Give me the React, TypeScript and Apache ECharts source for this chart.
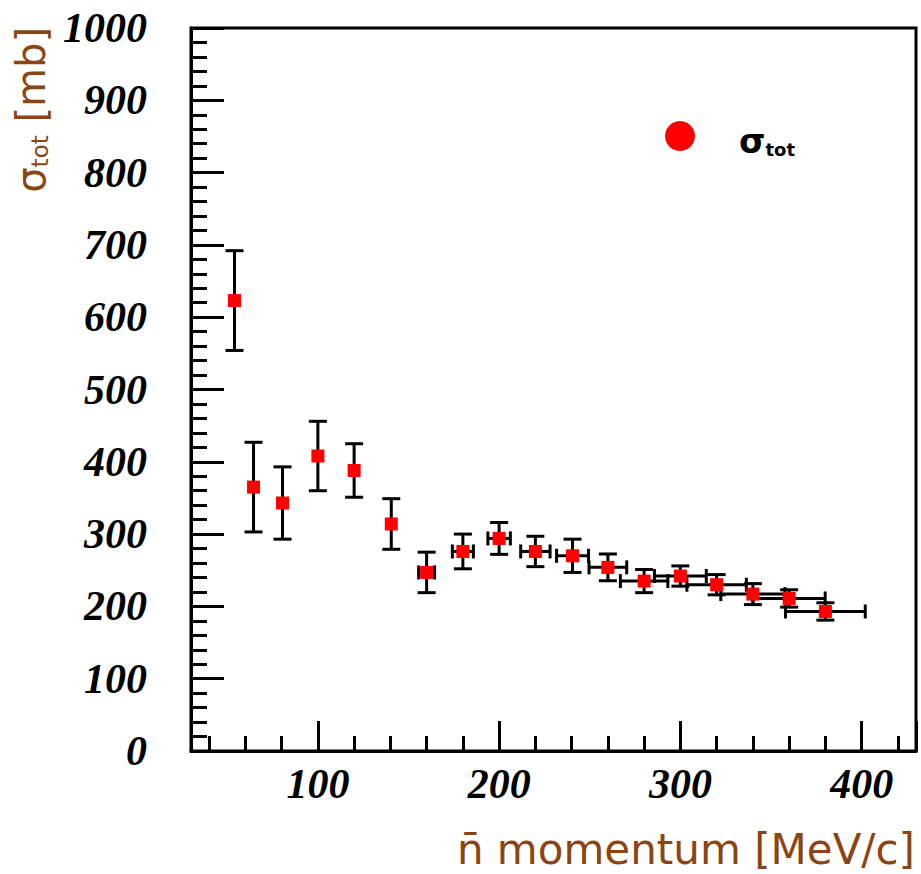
import React, { useEffect, useRef } from 'react';
import * as echarts from 'echarts';

// antineutron momentum [MeV/c]
const momentum = [54, 64.5, 80.5, 100, 120, 140.5, 160, 180, 200, 220, 240.5, 260, 280, 300, 320, 340, 360, 380];
// total cross section [mb]
const sigmaTot = [623, 365, 343, 408, 388, 314, 247, 276, 294, 276, 270, 254, 235, 242, 230, 217, 211, 193];
// vertical errors [mb]
const sigmaErr = [69, 62, 50, 48, 37, 35, 28, 24, 22, 21, 23, 18.5, 16, 14, 14, 14.5, 12, 12];
// horizontal errors [MeV/c]
const momentumErr = [0, 0, 0, 0, 0, 0, 4.4, 5.8, 6.2, 8.1, 8.8, 10.4, 13.1, 14.3, 16.4, 17.7, 19.9, 22];

const xRange = [30, 430];
const yRange = [0, 1000];

const BROWN = '#8B4513';
const tickFont = {
  fontFamily: 'Liberation Serif',
  fontStyle: 'italic' as const,
  fontWeight: 'bold' as const,
  fontSize: 42,
  color: '#000',
};

export default function App() {
  const ref = useRef<HTMLDivElement>(null);
  useEffect(() => {
    if (!ref.current) return;
    const chart = echarts.init(ref.current, undefined, { renderer: 'svg' });
    const points = momentum.map((x, i) => [x, sigmaTot[i]]);
    const errs = momentum.map((x, i) => [x, sigmaTot[i], sigmaErr[i], momentumErr[i]]);
    const line = { stroke: '#000', lineWidth: 3 };
    chart.setOption({
      animation: false,
      grid: {
        left: 191,
        right: 5,
        top: 28,
        bottom: 123,
        show: true,
        borderColor: '#000',
        borderWidth: 3,
        backgroundColor: 'transparent',
      },
      xAxis: {
        type: 'value',
        min: xRange[0],
        max: xRange[1],
        splitNumber: 4,
        splitLine: { show: false },
        axisLine: { show: true, lineStyle: { color: '#000', width: 3 } },
        axisTick: { show: true, inside: true, length: 30, lineStyle: { color: '#000', width: 3 } },
        minorTick: { show: true, splitNumber: 5, length: 15, lineStyle: { color: '#000', width: 3 } },
        axisLabel: {
          ...tickFont,
          margin: 12,
          showMinLabel: false,
          showMaxLabel: false,
          formatter: (v: number) => (v % 100 === 0 ? String(v) : ''),
        },
      },
      yAxis: {
        type: 'value',
        min: yRange[0],
        max: yRange[1],
        interval: 100,
        splitLine: { show: false },
        axisLine: { show: true, lineStyle: { color: '#000', width: 3 } },
        axisTick: { show: true, inside: true, length: 33, lineStyle: { color: '#000', width: 3 } },
        minorTick: { show: true, splitNumber: 5, length: 16, lineStyle: { color: '#000', width: 3 } },
        axisLabel: { ...tickFont, margin: 44, formatter: (v: number) => String(v) },
      },
      graphic: [
        { type: 'circle', shape: { cx: 680, cy: 136, r: 15 }, style: { fill: '#ff0000' } },
        {
          type: 'text',
          x: 739,
          y: 141,
          style: {
            text: '{s|σ}{t|tot}',
            align: 'left',
            verticalAlign: 'middle',
            rich: {
              s: { fontFamily: 'DejaVu Sans', fontWeight: 'bold', fontSize: 34, fill: '#000' },
              t: { fontFamily: 'DejaVu Sans', fontWeight: 'bold', fontSize: 18, fill: '#000', verticalAlign: 'bottom' },
            },
          },
        },
        {
          type: 'text',
          x: 31,
          y: 27,
          rotation: Math.PI / 2,
          style: {
            text: '{s|σ}{t|tot}{m| [mb]}',
            align: 'right',
            verticalAlign: 'middle',
            rich: {
              s: { fontFamily: 'DejaVu Sans', fontSize: 40, fill: BROWN },
              t: { fontFamily: 'DejaVu Sans', fontSize: 23, fill: BROWN, verticalAlign: 'bottom' },
              m: { fontFamily: 'DejaVu Sans', fontSize: 40, fill: BROWN },
            },
          },
        },
        {
          type: 'text',
          x: 915,
          y: 849,
          style: {
            text: 'n\u0304 momentum [MeV/c]',
            align: 'right',
            verticalAlign: 'middle',
            fontFamily: 'DejaVu Sans',
            fontSize: 42,
            fill: BROWN,
          },
        },
      ],
      series: [
        {
          type: 'custom',
          name: 'errors',
          data: errs,
          encode: { x: 0, y: 1 },
          z: 2,
          renderItem: (params: any, api: any) => {
            const x = api.value(0);
            const y = api.value(1);
            const ey = api.value(2);
            const ex = api.value(3);
            const c = api.coord([x, y]);
            const top = api.coord([x, y + ey]);
            const bot = api.coord([x, y - ey]);
            const cap = 9;
            const children: any[] = [
              { type: 'line', shape: { x1: c[0], y1: top[1], x2: c[0], y2: bot[1] }, style: line },
              { type: 'line', shape: { x1: c[0] - cap, y1: top[1], x2: c[0] + cap, y2: top[1] }, style: line },
              { type: 'line', shape: { x1: c[0] - cap, y1: bot[1], x2: c[0] + cap, y2: bot[1] }, style: line },
            ];
            if (ex > 0) {
              const l = api.coord([x - ex, y]);
              const r = api.coord([x + ex, y]);
              const hc = 7;
              children.push(
                { type: 'line', shape: { x1: l[0], y1: c[1], x2: r[0], y2: c[1] }, style: line },
                { type: 'line', shape: { x1: l[0], y1: c[1] - hc, x2: l[0], y2: c[1] + hc }, style: line },
                { type: 'line', shape: { x1: r[0], y1: c[1] - hc, x2: r[0], y2: c[1] + hc }, style: line },
              );
            }
            return { type: 'group', children };
          },
        },
        {
          type: 'scatter',
          name: 'σtot',
          data: points,
          symbol: 'rect',
          symbolSize: 13,
          itemStyle: { color: '#ff0000', opacity: 1 },
          z: 3,
        },
      ],
    });
    return () => chart.dispose();
  }, []);
  return (
    <div
      ref={ref}
      style={{ position: 'absolute', left: 0, top: 0, width: 921, height: 874, background: '#fff' }}
    />
  );
}
